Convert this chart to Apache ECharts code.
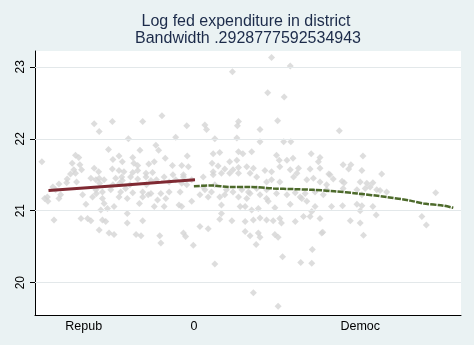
<!DOCTYPE html>
<html><head><meta charset="utf-8">
<script src="https://cdn.jsdelivr.net/npm/echarts@6/dist/echarts.min.js"></script>
<style>html,body{margin:0;padding:0;background:#eaf2f3}#c{width:474px;height:345px}</style>
</head><body><div id="c"></div>
<script>
const titleLines = ['Log fed expenditure in district', 'Bandwidth .2928777592534943'];
const xTickValues = [-20, 0, 30.2];
const xTickLabels = ['Repub', '0', 'Democ'];
const yTickValues = [20, 21, 22, 23];

const scatterX = [
-27.6,-21.5,-20.9,-22.1,-21.8,-21.5,-22.4,-23.0,-24.5,-18.1,-17.2,-14.8,-9.3,-5.8,-11.9,-15.5,-13.6,-14.7,-13.0,-11.1,
-10.9,-10.2,-9.8,-6.9,-6.4,-7.2,-8.2,-5.2,-3.3,-3.9,-18.1,-17.3,-14.8,-13.6,-12.7,-11.1,-10.2,-8.7,-7.5,-16.3,
-17.2,-17.8,-18.7,-14.2,-13.0,-11.5,-10.2,-8.7,-7.8,-5.4,-4.5,-3.3,-17.8,-16.6,-15.1,-13.3,-12.4,-11.1,-9.3,-7.8,
-6.0,-4.5,-25.1,-24.2,-26.6,-20.2,-18.4,-25.6,-23.1,-21.3,-14.7,-13.5,-11.6,-8.6,-20.7,-20.4,-13.1,-6.8,-3.8,-1.9,
-0.4,-17.1,-27.1,-24.5,-19.6,-16.6,-16.3,-14.5,-13.6,-12.1,-9.9,-9.3,-7.2,-6.6,-5.4,-5.1,-2.7,-16.9,-15.7,-12.1,
-25.4,-20.5,-19.3,-18.7,-16.6,-16.0,-12.1,-9.3,-17.2,-15.4,-14.5,-10.5,-9.6,-6.2,-6.0,-17.7,-8.3,-2.5,-26.5,-2.2,
7.0,14.1,17.5,13.4,16.4,-1.3,2.0,2.3,8.1,7.9,12.0,15.2,3.8,7.8,12.0,16.3,17.6,3.5,4.7,-1.2,
8.9,10.5,6.5,3.3,15.0,15.5,16.9,18.0,21.3,22.9,22.6,-2.2,-1.0,4.4,5.6,7.1,8.1,9.6,10.8,12.9,
14.1,15.6,17.5,18.7,19.0,21.1,22.9,-1.9,1.7,3.5,6.5,8.1,10.2,11.4,14.1,15.6,18.1,20.5,21.7,22.9,
-1.3,1.7,3.8,5.9,7.1,8.7,9.9,11.4,13.2,15.0,16.9,18.4,20.2,22.0,23.5,1.1,2.6,4.7,8.1,9.6,
13.2,24.1,10.2,12.0,13.2,19.3,24.1,-0.4,-2.2,5.0,9.3,10.5,11.7,13.5,14.7,17.5,19.6,20.5,22.0,5.0,
4.7,6.9,9.3,10.8,12.0,13.2,14.4,15.6,15.9,18.4,19.9,21.1,21.4,23.2,-1.9,-1.5,1.1,2.6,-0.1,9.3,
10.2,11.7,12.0,11.3,14.7,15.3,21.5,16.1,3.8,19.4,21.4,10.8,15.3,2.0,3.2,5.6,8.4,3.5,5.0,7.8,8.1,
26.4,30.7,27.1,28.5,28.1,30.5,34.1,24.7,25.3,26.9,27.3,30.2,31.4,32.5,31.1,33.8,35.0,43.9,27.1,29.6,
30.5,33.2,25.0,27.0,29.6,30.5,30.2,32.5,33.1,22.9,28.4,30.2,23.4,30.8,41.4,42.2,24.5,32.0
];
const scatterY = [
21.68,21.77,21.74,21.66,21.57,21.52,21.51,21.44,21.37,22.21,22.10,22.24,22.24,22.32,22.00,21.85,21.76,21.71,21.68,21.74,
21.66,21.63,21.84,21.91,21.84,21.68,21.65,21.73,22.02,21.63,21.59,21.54,21.58,21.56,21.54,21.53,21.56,21.52,21.53,21.43,
21.45,21.43,21.45,21.45,21.42,21.47,21.44,21.47,21.42,21.47,21.40,21.43,21.29,21.26,21.29,21.26,21.31,21.25,21.26,21.24,
21.24,21.26,21.29,21.22,21.19,21.22,21.19,21.33,21.39,21.40,21.36,21.38,21.36,21.36,21.64,21.57,21.47,21.43,21.50,21.47,
21.43,21.38,21.17,21.17,21.09,21.17,21.10,21.06,21.19,21.17,21.10,21.19,21.06,21.15,21.06,21.17,21.08,21.01,21.03,20.96,
20.87,20.89,20.89,20.86,20.87,20.85,20.83,20.86,20.73,20.69,20.67,20.67,20.65,20.65,20.55,21.24,21.22,21.26,21.13,21.38,
22.93,23.13,23.01,22.64,22.58,22.18,22.19,22.13,22.24,22.18,22.13,22.25,22.00,22.01,21.96,21.96,21.96,21.79,21.81,21.76,
21.79,21.82,21.68,21.66,21.77,21.70,21.70,21.73,21.79,21.74,21.68,21.63,21.61,21.62,21.58,21.57,21.60,21.61,21.59,21.56,
21.54,21.61,21.57,21.52,21.59,21.58,21.59,21.50,21.47,21.50,21.52,21.52,21.52,21.47,21.43,21.40,21.47,21.43,21.45,21.40,
21.36,21.33,21.36,21.29,21.26,21.29,21.26,21.31,21.29,21.24,21.22,21.25,21.24,21.26,21.22,21.22,21.19,21.19,21.19,21.17,
21.40,21.36,21.24,21.22,21.17,21.19,21.29,21.13,21.06,21.08,21.06,21.01,21.03,21.13,21.04,21.09,21.17,21.13,21.06,20.96,
20.88,20.86,20.85,20.87,20.90,20.87,20.86,20.89,20.83,20.85,20.92,20.92,20.99,20.69,20.69,20.64,20.78,20.75,20.52,20.71,
20.65,20.69,20.63,20.53,20.67,20.63,20.46,20.36,20.26,20.28,20.27,19.86,19.67,21.29,21.26,21.22,21.06,21.54,21.52,21.70,21.82,
22.11,21.76,21.64,21.64,21.58,21.56,21.51,21.50,21.44,21.41,21.39,21.40,21.38,21.39,21.31,21.28,21.26,21.25,21.31,21.29,
21.22,21.29,21.06,21.07,21.09,21.07,21.00,21.06,20.94,20.89,20.86,20.83,20.70,20.66,20.92,20.80,21.51,21.33
];

const repLineX = [-26.4, -20, -13, -6, 0.2];
const repLineY = [21.28, 21.316, 21.355, 21.394, 21.43];
const demLineX = [0, 3.2, 6.5, 10.2, 14.4, 18.1, 21.7, 25.5, 29.6, 35.0, 39.3, 41.7, 45.3, 47.1];
const demLineY = [21.34, 21.35, 21.33, 21.33, 21.31, 21.30, 21.29, 21.27, 21.24, 21.19, 21.14, 21.10, 21.07, 21.04];

const FONT = 'Arial, "Liberation Sans", sans-serif';
const zip = (a, b) => a.map((v, i) => [v, b[i]]);
function xLabel(v) {
  let best = 0;
  xTickValues.forEach((t, i) => { if (Math.abs(t - v) < Math.abs(xTickValues[best] - v)) best = i; });
  return xTickLabels[best];
}

const chart = echarts.init(document.getElementById('c'), null, {renderer: 'canvas'});
chart.setOption({
  animation: false,
  backgroundColor: '#eaf2f3',
  graphic: [
    {type: 'text', x: 246, y: 22, style: {text: titleLines[0], fill: '#1c2b4a', font: '16px ' + FONT, textAlign: 'center', textVerticalAlign: 'middle'}},
    {type: 'text', x: 248, y: 38.5, style: {text: titleLines[1], fill: '#1c2b4a', font: '16px ' + FONT, textAlign: 'center', textVerticalAlign: 'middle'}}
  ],
  grid: {left: 35, right: 13, top: 51, bottom: 30, show: true, backgroundColor: '#ffffff', borderWidth: 0, containLabel: false},
  xAxis: {
    type: 'value', min: -28.85, max: 48.5,
    axisLine: {show: true, onZero: false, lineStyle: {color: '#000', width: 1}},
    axisTick: {show: false},
    splitLine: {show: false},
    axisLabel: {customValues: xTickValues, formatter: xLabel, color: '#000', fontSize: 12.5, fontFamily: FONT, margin: 5}
  },
  yAxis: {
    type: 'value', min: 19.55, max: 23.22,
    axisLine: {show: true, onZero: false, lineStyle: {color: '#000', width: 1}},
    axisTick: {show: true, customValues: yTickValues, length: 5, lineStyle: {color: '#000'}},
    splitLine: {show: false},
    axisLabel: {customValues: yTickValues, rotate: 90, color: '#000', fontSize: 12, fontFamily: FONT, margin: 8}
  },
  series: [
    {
      type: 'scatter', data: zip(scatterX, scatterY), symbol: 'diamond', symbolSize: 7,
      itemStyle: {color: '#d4d4d4'}, silent: true,
      markLine: {silent: true, symbol: 'none', label: {show: false}, lineStyle: {color: '#e3e8ea', width: 1, type: 'solid'},
        data: yTickValues.map(v => ({yAxis: v}))}
    },
    {type: 'line', data: zip(repLineX, repLineY), showSymbol: false, lineStyle: {color: '#7f2a33', width: 3}, z: 5},
    {type: 'line', data: zip(demLineX, demLineY), showSymbol: false, smooth: 0.3, lineStyle: {color: '#4d6a2b', width: 2.5, type: [6, 1.2]}, z: 5}
  ]
});
</script></body></html>
